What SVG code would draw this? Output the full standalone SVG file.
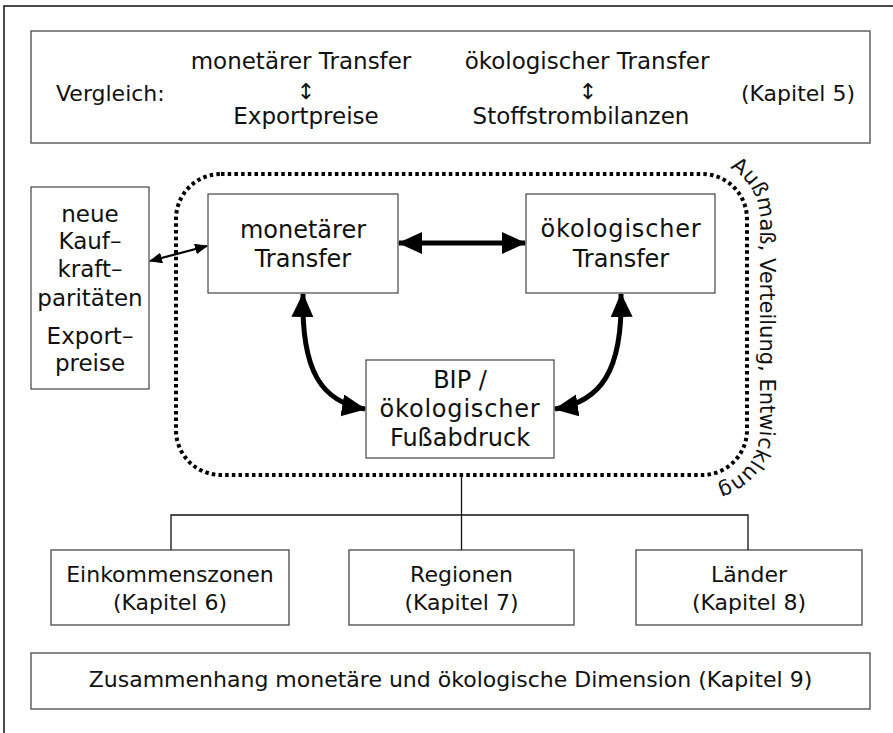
<svg xmlns="http://www.w3.org/2000/svg" width="893" height="733" viewBox="0 0 893 733">
  <style>
    text { font-family: "DejaVu Sans", "Liberation Sans", sans-serif; fill: #111; }
    .t22 { font-size: 22px; text-anchor: middle; }
    .t23 { font-size: 23px; text-anchor: middle; }
    .t24 { font-size: 24px; text-anchor: middle; }
    .box { fill: #fff; stroke: #555; stroke-width: 1.4; }
    .mbox { fill: #fff; stroke: #333; stroke-width: 1.1; }
    .frame { fill: none; stroke: #111; stroke-width: 1.5; }
    .tree { fill: none; stroke: #111; stroke-width: 1.3; }
    .thick { fill: none; stroke: #000; stroke-width: 5; }
    .thin { fill: none; stroke: #000; stroke-width: 2.2; }
    .dotted { fill: none; stroke: #000; stroke-width: 4; stroke-dasharray: 3.5 3.2; }
  </style>
  <defs>
    <marker id="headBig" markerUnits="userSpaceOnUse" markerWidth="26" markerHeight="24" refX="23" refY="11" orient="auto-start-reverse">
      <path d="M0,0 L24,11 L0,22 z" fill="#000"/>
    </marker>
    <marker id="headSmall" markerUnits="userSpaceOnUse" markerWidth="14" markerHeight="12" refX="12" refY="5.5" orient="auto-start-reverse">
      <path d="M0,0 L13,5.5 L0,11 z" fill="#000"/>
    </marker>
    <path id="aroundPath" d="M 660 161 H 702 A 58 58 0 0 1 760 219 V 430 A 58 58 0 0 1 702 488 H 660"/>
  </defs>

  <!-- page frame (top and left edges only) -->
  <path class="frame" d="M 4 733 V 6 H 893"/>

  <!-- comparison header -->
  <g id="vergleich">
    <rect class="box" x="31" y="31" width="839" height="112"/>
    <text x="56" y="101" style="font-size:22px">Vergleich:</text>
    <text class="t23" x="301" y="69">monetärer Transfer</text>
    <text class="t22" x="306" y="99">↕</text>
    <text class="t23" x="306" y="124">Exportpreise</text>
    <text class="t23" x="587" y="69">ökologischer Transfer</text>
    <text class="t22" x="588" y="99">↕</text>
    <text class="t23" x="581" y="124">Stoffstrombilanzen</text>
    <text x="741" y="101" style="font-size:22px">(Kapitel 5)</text>
  </g>

  <!-- dotted scope outline with its label -->
  <g id="umfang">
    <rect class="dotted" x="176" y="174" width="571" height="301" rx="45" ry="45"/>
    <text style="font-size:21px"><textPath href="#aroundPath" startOffset="71">Außmaß, Verteilung, Entwicklung</textPath></text>
  </g>

  <g id="kaufkraft">
    <rect class="mbox" x="31" y="187" width="118" height="202"/>
    <text class="t23" x="90" y="222">neue</text>
    <text class="t23" x="90" y="249">Kauf–</text>
    <text class="t23" x="90" y="277">kraft–</text>
    <text class="t23" x="90" y="306">paritäten</text>
    <text class="t23" x="90" y="344">Export–</text>
    <text class="t23" x="90" y="371">preise</text>
  </g>

  <g id="monetaer">
    <rect class="mbox" x="208" y="194" width="190" height="99"/>
    <text class="t24" x="303" y="238">monetärer</text>
    <text class="t24" x="303" y="267">Transfer</text>
  </g>

  <g id="oekologisch">
    <rect class="mbox" x="526" y="194" width="189" height="99"/>
    <text class="t24" x="621" y="237" letter-spacing="0.8">ökologischer</text>
    <text class="t24" x="621" y="267">Transfer</text>
  </g>

  <g id="bip">
    <rect class="mbox" x="366" y="360" width="188" height="98"/>
    <text class="t24" x="460" y="388">BIP /</text>
    <text class="t24" x="460" y="417" letter-spacing="0.8">ökologischer</text>
    <text class="t24" x="460" y="446">Fußabdruck</text>
  </g>

  <g id="einkommenszonen">
    <rect class="box" x="51" y="550" width="238" height="75"/>
    <text class="t22" x="170" y="582">Einkommenszonen</text>
    <text class="t22" x="170" y="610">(Kapitel 6)</text>
  </g>

  <g id="regionen">
    <rect class="box" x="349" y="550" width="225" height="75"/>
    <text class="t22" x="461.5" y="582">Regionen</text>
    <text class="t22" x="461.5" y="610">(Kapitel 7)</text>
  </g>

  <g id="laender">
    <rect class="box" x="636" y="550" width="226" height="75"/>
    <text class="t22" x="749" y="582">Länder</text>
    <text class="t22" x="749" y="610">(Kapitel 8)</text>
  </g>

  <g id="zusammenhang">
    <rect class="box" x="31" y="653" width="839" height="56"/>
    <text class="t22" x="450.5" y="687">Zusammenhang monetäre und ökologische Dimension (Kapitel 9)</text>
  </g>

  <!-- connectors -->
  <g id="connectors">
    <path class="thin" d="M 150 261 L 207 246" marker-start="url(#headSmall)" marker-end="url(#headSmall)"/>
    <path class="thick" d="M 399 243 H 525" marker-start="url(#headBig)" marker-end="url(#headBig)"/>
    <path class="thick" d="M 303 294 C 301 372, 322 402, 365 409" marker-start="url(#headBig)" marker-end="url(#headBig)"/>
    <path class="thick" d="M 621 294 C 623 372, 600 402, 555 409" marker-start="url(#headBig)" marker-end="url(#headBig)"/>
    <path class="tree" d="M 461.5 476 V 515 M 171 550 V 515 H 748 V 550 M 461.5 515 V 550"/>
  </g>
</svg>
